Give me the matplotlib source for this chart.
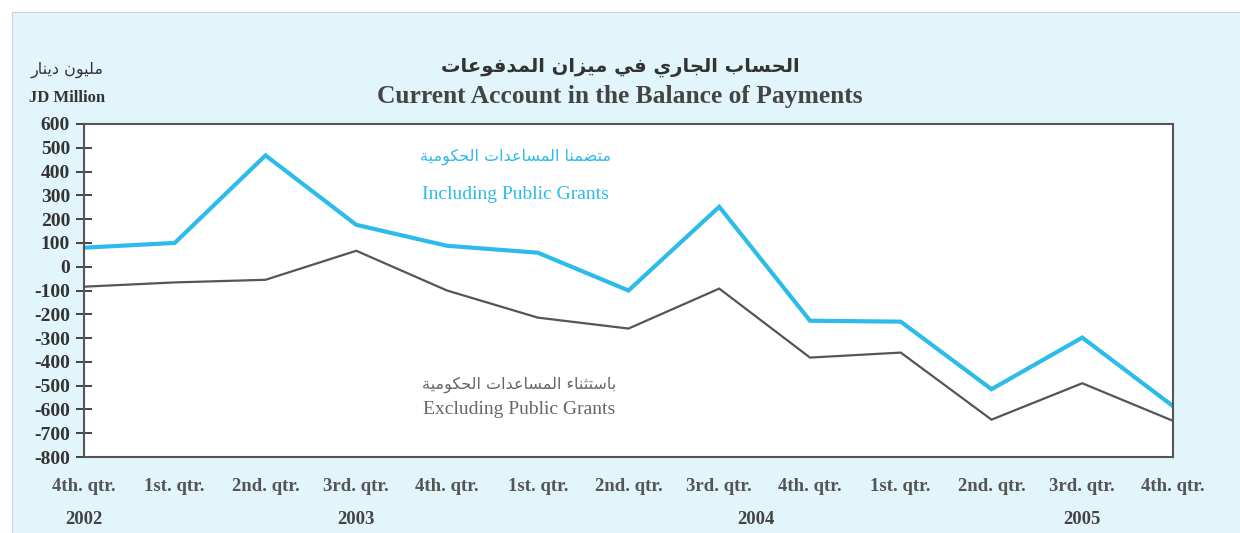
import matplotlib
matplotlib.use("Agg")
import matplotlib.pyplot as plt
from matplotlib.patches import Rectangle

# Quarterly current account balance, JD million
quarters = ["4th. qtr.", "1st. qtr.", "2nd. qtr.", "3rd. qtr.", "4th. qtr.",
            "1st. qtr.", "2nd. qtr.", "3rd. qtr.", "4th. qtr.", "1st. qtr.",
            "2nd. qtr.", "3rd. qtr.", "4th. qtr."]
including_grants = [80, 100, 468, 176, 88, 59, -100, 252, -227, -231, -515, -298, -586]
excluding_grants = [-84, -66, -55, 67, -100, -214, -260, -92, -382, -361, -643, -490, -648]
years = ["2002", "2003", "2004", "2005"]
year_pos = [0, 3, 7.4, 11]
y_ticks = list(range(-800, 601, 100))

# --- minimal Arabic shaping (matplotlib has no bidi / joining support) ---
FOUR = {"ب": 0xFE8F, "ت": 0xFE95, "ث": 0xFE99, "ج": 0xFE9D, "ح": 0xFEA1,
        "س": 0xFEB1, "ض": 0xFEBD, "ع": 0xFEC9, "ف": 0xFED1, "ك": 0xFED9,
        "ل": 0xFEDD, "م": 0xFEE1, "ن": 0xFEE5, "ي": 0xFEF1}
TWO = {"ا": 0xFE8D, "ة": 0xFE93, "د": 0xFEA9, "ر": 0xFEAD, "ز": 0xFEAF,
       "و": 0xFEED}
ONE = {"ء": 0xFE80}


def shape_ar(text):
    out = []
    for i, ch in enumerate(text):
        prev = text[i - 1] if i > 0 else ""
        nxt = text[i + 1] if i + 1 < len(text) else ""
        jp = prev in FOUR and ch in FOUR.keys() | TWO.keys()
        jn = ch in FOUR and nxt in FOUR.keys() | TWO.keys()
        if ch in FOUR:
            b = FOUR[ch]
            out.append(chr(b + 3 if jp and jn else b + 1 if jp else b + 2 if jn else b))
        elif ch in TWO:
            out.append(chr(TWO[ch] + 1 if jp else TWO[ch]))
        elif ch in ONE:
            out.append(chr(ONE[ch]))
        else:
            out.append(ch)
    return "".join(reversed(out))


BG = "#e2f5fb"
BLUE = "#2cbbea"
GREY = "#555555"
SERIF = "Liberation Serif"
AR = "DejaVu Sans"

fig = plt.figure(figsize=(12.4, 5.33), dpi=100)
fig.patch.set_facecolor("white")
fig.patches.append(Rectangle((12 / 1240, -0.01), 1.02, 1 - 12 / 533 + 0.01,
                             transform=fig.transFigure, facecolor=BG,
                             edgecolor="#c8d4d8", linewidth=0.8, zorder=-5))

ax = fig.add_axes([84 / 1240, 1 - 457 / 533, (1173 - 84) / 1240, (457 - 124) / 533])
ax.set_zorder(2)
ax.set_facecolor("white")
x = range(len(quarters))
ax.plot(x, excluding_grants, color=GREY, linewidth=1.6, solid_joinstyle="miter")
ax.plot(x, including_grants, color=BLUE, linewidth=3.0, solid_joinstyle="miter")

ax.set_xlim(0, len(quarters) - 1)
ax.set_ylim(-800, 600)
ax.set_yticks(y_ticks)
ax.set_yticklabels([str(v) for v in y_ticks], fontfamily=SERIF,
                   fontweight="bold", fontsize=14, color="#333333")
ax.tick_params(axis="y", direction="inout", length=12, width=1.4, color="#444444", pad=4)
ax.set_xticks(list(x))
ax.set_xticklabels(quarters, fontfamily=SERIF, fontweight="bold",
                   fontsize=13.5, color="#555555")
ax.tick_params(axis="x", length=0, pad=15)
for s in ax.spines.values():
    s.set_color("#555555")
    s.set_linewidth(1.5)

for yr, p in zip(years, year_pos):
    ax.annotate(yr, xy=(p, 0), xycoords=("data", "axes fraction"),
                xytext=(0, -45), textcoords="offset points", ha="center",
                va="center", fontfamily=SERIF, fontweight="bold",
                fontsize=13.5, color="#444444")

# series labels
ax.text(4.75, 462, shape_ar("متضمنا المساعدات الحكومية"), color=BLUE,
        ha="center", va="center", fontfamily=AR, fontsize=11.5)
ax.text(4.75, 305, "Including Public Grants", color=BLUE, ha="center",
        va="center", fontfamily=SERIF, fontsize=14)
ax.text(4.8, -495, shape_ar("باستثناء المساعدات الحكومية"), color="#666666",
        ha="center", va="center", fontfamily=AR, fontsize=11.5)
ax.text(4.8, -600, "Excluding Public Grants", color="#666666", ha="center",
        va="center", fontfamily=SERIF, fontsize=14)

# titles
fig.text(620 / 1240, 1 - 67 / 533, shape_ar("الحساب الجاري في ميزان المدفوعات"),
         ha="center", va="center", fontfamily=AR, fontweight="bold",
         fontsize=14, color="#333333")
fig.text(620 / 1240, 1 - 96 / 533, "Current Account in the Balance of Payments",
         ha="center", va="center", fontfamily=SERIF, fontweight="bold",
         fontsize=18.4, color="#444444")
fig.text(67 / 1240, 1 - 70 / 533, shape_ar("مليون دينار"), ha="center",
         va="center", fontfamily=AR, fontsize=11.5, color="#333333")
fig.text(67 / 1240, 1 - 98 / 533, "JD Million", ha="center", va="center",
         fontfamily=SERIF, fontweight="bold", fontsize=12, color="#333333")

fig.savefig("out.png", dpi=100, facecolor=fig.get_facecolor())
